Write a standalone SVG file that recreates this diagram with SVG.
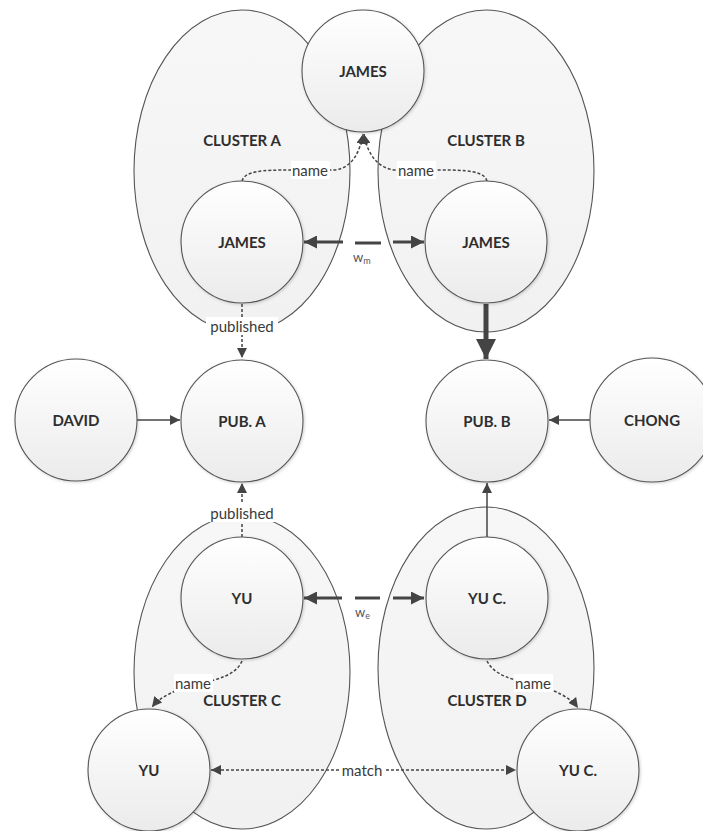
<svg xmlns="http://www.w3.org/2000/svg" width="703" height="831" viewBox="0 0 703 831">
<defs>
<linearGradient id="gNode" x1="0" y1="0" x2="0" y2="1">
<stop offset="0" stop-color="#ffffff"/>
<stop offset="1" stop-color="#ebebeb"/>
</linearGradient>
<linearGradient id="gClus" x1="0" y1="0" x2="0" y2="1">
<stop offset="0" stop-color="#f7f7f7"/>
<stop offset="1" stop-color="#f1f1f1"/>
</linearGradient>
<filter id="sh" x="-20%" y="-20%" width="140%" height="140%">
<feDropShadow dx="1" dy="1" stdDeviation="1.5" flood-color="#000" flood-opacity="0.18"/>
</filter>
<marker id="ah" viewBox="0 0 10 10" refX="10" refY="5" markerWidth="10" markerHeight="10" markerUnits="userSpaceOnUse" orient="auto-start-reverse">
<path d="M0,0 L10,5 L0,10 Z" fill="#444"/>
</marker>
<marker id="ahM" viewBox="0 0 10 10" refX="10" refY="5" markerWidth="14" markerHeight="13" markerUnits="userSpaceOnUse" orient="auto-start-reverse">
<path d="M0,0 L10,5 L0,10 Z" fill="#444"/>
</marker>
<marker id="ahL" viewBox="0 0 10 10" refX="10" refY="5" markerWidth="22" markerHeight="20" markerUnits="userSpaceOnUse" orient="auto">
<path d="M0,0 L10,5 L0,10 Z" fill="#444"/>
</marker>
</defs>
<style>
.clus{fill:url(#gClus);stroke:#555;stroke-width:1.1}
.node{fill:url(#gNode);stroke:#555;stroke-width:1.1;filter:url(#sh)}
.nt{font-family:Lato,"Liberation Sans",sans-serif;font-weight:bold;font-size:15px;fill:#2e2e2e;text-anchor:middle;dominant-baseline:central}
.lbl{font-family:Lato,"Liberation Sans",sans-serif;font-size:15px;fill:#3a3a3a;text-anchor:middle;dominant-baseline:central}
.bg{fill:#ffffff}
.dash{fill:none;stroke:#444;stroke-width:1.5;stroke-dasharray:3 2}
.sol{fill:none;stroke:#444;stroke-width:1.5}
.thk{fill:none;stroke:#444;stroke-width:3}
.thk2{fill:none;stroke:#444;stroke-width:5}
</style>
<g id="clusters">
<g id="cluster-a"><ellipse class="clus" cx="242" cy="171" rx="108" ry="161"/><text class="nt" x="242" y="140">CLUSTER A</text></g>
<g id="cluster-b"><ellipse class="clus" cx="486" cy="171" rx="108" ry="161"/><text class="nt" x="486" y="140">CLUSTER B</text></g>
<g id="cluster-c"><ellipse class="clus" cx="242" cy="672" rx="108" ry="157"/></g>
<g id="cluster-d"><ellipse class="clus" cx="486" cy="668" rx="108" ry="161"/></g>
</g>
<g id="connectors">
<path class="dash" d="M242,181 C245,171 262,170 290,170 L335,170 C352,168 360,152 363,134" marker-end="url(#ah)"/>
<path class="dash" d="M487,181 C484,171 467,170 440,170 L395,170 C376,168 367,152 364,134" marker-end="url(#ah)"/>
<rect class="bg" x="291" y="161" width="39" height="18"/>
<text class="lbl" x="310" y="170">name</text>
<rect class="bg" x="397" y="161" width="39" height="18"/>
<text class="lbl" x="416" y="170">name</text>
<line class="thk" x1="343" y1="242" x2="304" y2="242" marker-end="url(#ahM)"/>
<line class="thk" x1="393" y1="242" x2="424" y2="242" marker-end="url(#ahM)"/>
<line class="thk" x1="355" y1="243" x2="381" y2="243"/>
<text x="353" y="262" font-family="Lato,'Liberation Sans',sans-serif" font-size="13" fill="#555">w<tspan font-size="9" dy="2">m</tspan></text>
<line class="dash" x1="242" y1="304" x2="242" y2="358" marker-end="url(#ah)"/>
<rect class="bg" x="206" y="317" width="72" height="18"/>
<text class="lbl" x="242" y="326">published</text>
<line class="thk2" x1="486" y1="304" x2="486" y2="359" marker-end="url(#ahL)"/>
<line class="sol" x1="137" y1="420" x2="180" y2="420" marker-end="url(#ah)"/>
<line class="sol" x1="590" y1="420" x2="549" y2="420" marker-end="url(#ah)"/>
<line class="dash" x1="242" y1="537" x2="242" y2="483" marker-end="url(#ah)"/>
<rect class="bg" x="206" y="504" width="72" height="18"/>
<text class="lbl" x="242" y="513">published</text>
<line class="sol" x1="487" y1="537" x2="487" y2="483" marker-end="url(#ah)"/>
<line class="thk" x1="342" y1="598" x2="304" y2="598" marker-end="url(#ahM)"/>
<line class="thk" x1="393" y1="598" x2="424" y2="598" marker-end="url(#ahM)"/>
<line class="thk" x1="355" y1="598" x2="380" y2="598"/>
<text x="355" y="617" font-family="Lato,'Liberation Sans',sans-serif" font-size="13" fill="#555">w<tspan font-size="9" dy="2">e</tspan></text>
<path class="dash" d="M242,661 C236,675 218,680 195,684 C175,690 160,697 152,707" marker-end="url(#ah)"/>
<rect class="bg" x="174" y="674" width="39" height="18"/>
<text class="lbl" x="193" y="683">name</text>
<path class="dash" d="M487,661 C494,675 512,680 533,684 C555,690 570,697 578,708" marker-end="url(#ah)"/>
<rect class="bg" x="514" y="674" width="39" height="18"/>
<text class="lbl" x="533" y="683">name</text>
<line class="dash" x1="211" y1="770" x2="516" y2="770" marker-start="url(#ah)" marker-end="url(#ah)"/>
<rect class="bg" x="341" y="761" width="43" height="18"/>
<text class="lbl" x="362" y="770">match</text>
</g>
<g id="labels-bottom">
<text class="nt" x="242" y="700">CLUSTER C</text>
<text class="nt" x="487" y="700">CLUSTER D</text>
</g>
<g id="nodes">
<g id="james-top"><circle class="node" cx="363" cy="71" r="61"/><text class="nt" x="363" y="71">JAMES</text></g>
<g id="james-a"><circle class="node" cx="242" cy="242" r="61"/><text class="nt" x="242" y="242">JAMES</text></g>
<g id="james-b"><circle class="node" cx="486" cy="242" r="61"/><text class="nt" x="486" y="242">JAMES</text></g>
<g id="david"><circle class="node" cx="76" cy="420" r="61"/><text class="nt" x="76" y="420">DAVID</text></g>
<g id="pub-a"><circle class="node" cx="242" cy="421" r="61"/><text class="nt" x="242" y="421">PUB. A</text></g>
<g id="pub-b"><circle class="node" cx="487" cy="421" r="61"/><text class="nt" x="487" y="421">PUB. B</text></g>
<g id="chong"><circle class="node" cx="652" cy="420" r="62"/><text class="nt" x="652" y="420">CHONG</text></g>
<g id="yu-c"><circle class="node" cx="242" cy="598" r="61"/><text class="nt" x="242" y="598">YU</text></g>
<g id="yuc-d"><circle class="node" cx="487" cy="598" r="61"/><text class="nt" x="487" y="598">YU C.</text></g>
<g id="yu"><circle class="node" cx="149" cy="770" r="61"/><text class="nt" x="149" y="770">YU</text></g>
<g id="yuc"><circle class="node" cx="578" cy="770" r="61"/><text class="nt" x="578" y="770">YU C.</text></g>
</g>
</svg>
